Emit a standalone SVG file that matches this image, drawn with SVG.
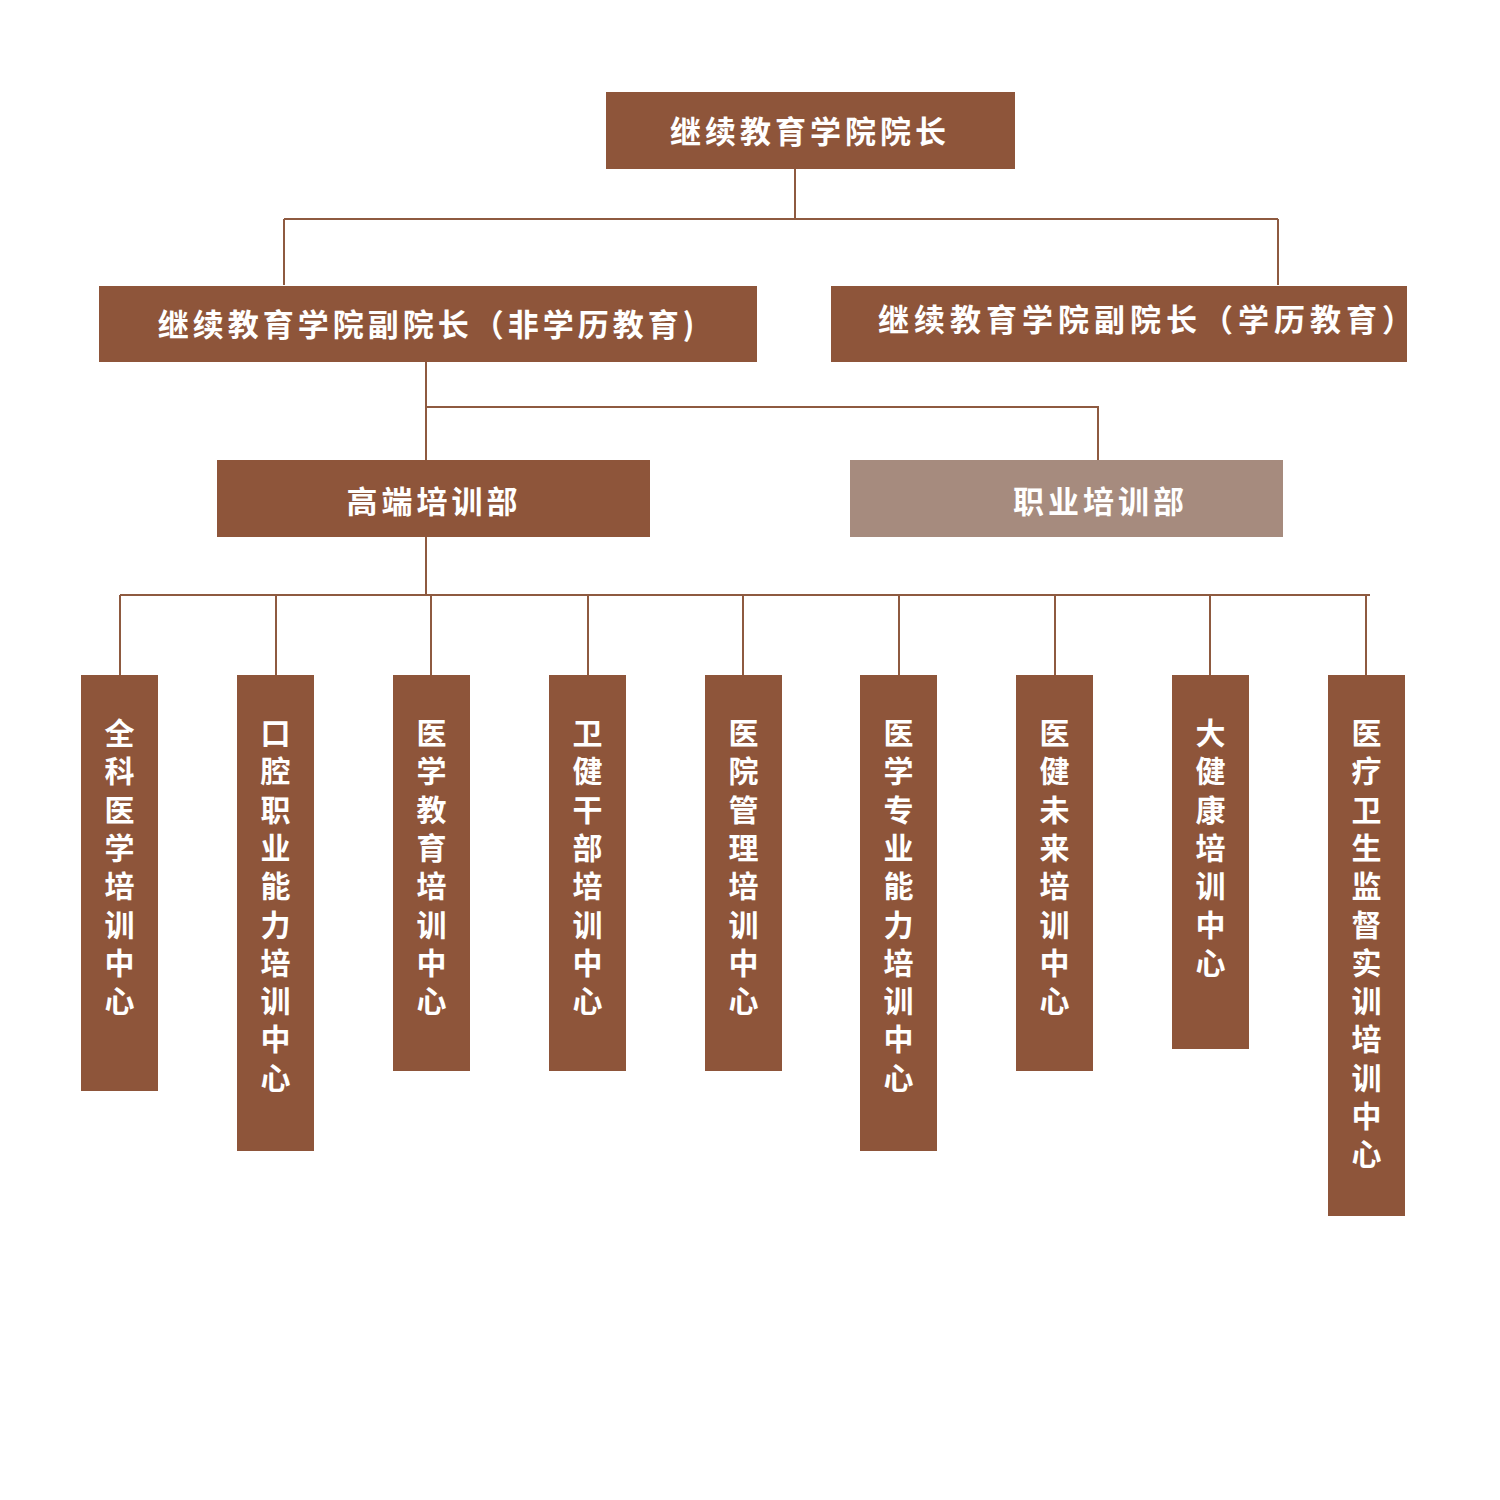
<svg xmlns="http://www.w3.org/2000/svg" width="1500" height="1500" viewBox="0 0 1500 1500">
<style>
.box{fill:#8e553a}
.gbox{fill:#a68b7e}
.t{font-family:"Noto Sans CJK SC","Noto Sans",sans-serif;font-size:31px;font-weight:bold;fill:#ffffff;letter-spacing:4px}
.v{font-family:"Noto Sans CJK SC","Noto Sans",sans-serif;font-size:30px;font-weight:bold;fill:#ffffff;text-anchor:middle}
.ln{stroke:#8e5a40;stroke-width:2;fill:none}
</style>
<rect width="1500" height="1500" fill="#ffffff"/>
<g id="connectors">
<path class="ln" d="M795 169V219M284 219H1278M284 219V285M1278 219V285"/>
<path class="ln" d="M426 362V460M426 407H1098V460"/>
<path class="ln" d="M426 537V595M120 595H1370"/>
<path class="ln" d="M120 595V675M276 595V675M431 595V675M588 595V675M743 595V675M899 595V675M1055 595V675M1210 595V675M1366 595V675"/>
</g>
<g id="dean"><rect class="box" x="606" y="92" width="409" height="77"/><text class="t" x="810" y="143" text-anchor="middle">继续教育学院院长</text></g>
<g id="vp-nondegree"><rect class="box" x="99" y="286" width="658" height="76"/><text class="t" x="428" y="336" text-anchor="middle">继续教育学院副院长（非学历教育)</text></g>
<g id="vp-degree"><rect class="box" x="831" y="286" width="576" height="76"/><text class="t" x="878" y="331" style="letter-spacing:5px">继续教育学院副院长（学历教育）</text></g>
<g id="high-end"><rect class="box" x="217" y="460" width="433" height="77"/><text class="t" x="434" y="513" text-anchor="middle">高端培训部</text></g>
<g id="vocational"><rect class="gbox" x="850" y="460" width="433" height="77"/><text class="t" x="1013" y="513">职业培训部</text></g>
<g id="c1"><rect class="box" x="81" y="675" width="77" height="416"/><text class="v"><tspan x="119.5" y="744">全</tspan><tspan x="119.5" dy="38.3">科</tspan><tspan x="119.5" dy="38.3">医</tspan><tspan x="119.5" dy="38.3">学</tspan><tspan x="119.5" dy="38.3">培</tspan><tspan x="119.5" dy="38.3">训</tspan><tspan x="119.5" dy="38.3">中</tspan><tspan x="119.5" dy="38.3">心</tspan></text></g>
<g id="c2"><rect class="box" x="237" y="675" width="77" height="476"/><text class="v"><tspan x="275.5" y="744">口</tspan><tspan x="275.5" dy="38.3">腔</tspan><tspan x="275.5" dy="38.3">职</tspan><tspan x="275.5" dy="38.3">业</tspan><tspan x="275.5" dy="38.3">能</tspan><tspan x="275.5" dy="38.3">力</tspan><tspan x="275.5" dy="38.3">培</tspan><tspan x="275.5" dy="38.3">训</tspan><tspan x="275.5" dy="38.3">中</tspan><tspan x="275.5" dy="38.3">心</tspan></text></g>
<g id="c3"><rect class="box" x="393" y="675" width="77" height="396"/><text class="v"><tspan x="431.5" y="744">医</tspan><tspan x="431.5" dy="38.3">学</tspan><tspan x="431.5" dy="38.3">教</tspan><tspan x="431.5" dy="38.3">育</tspan><tspan x="431.5" dy="38.3">培</tspan><tspan x="431.5" dy="38.3">训</tspan><tspan x="431.5" dy="38.3">中</tspan><tspan x="431.5" dy="38.3">心</tspan></text></g>
<g id="c4"><rect class="box" x="549" y="675" width="77" height="396"/><text class="v"><tspan x="587.5" y="744">卫</tspan><tspan x="587.5" dy="38.3">健</tspan><tspan x="587.5" dy="38.3">干</tspan><tspan x="587.5" dy="38.3">部</tspan><tspan x="587.5" dy="38.3">培</tspan><tspan x="587.5" dy="38.3">训</tspan><tspan x="587.5" dy="38.3">中</tspan><tspan x="587.5" dy="38.3">心</tspan></text></g>
<g id="c5"><rect class="box" x="705" y="675" width="77" height="396"/><text class="v"><tspan x="743.5" y="744">医</tspan><tspan x="743.5" dy="38.3">院</tspan><tspan x="743.5" dy="38.3">管</tspan><tspan x="743.5" dy="38.3">理</tspan><tspan x="743.5" dy="38.3">培</tspan><tspan x="743.5" dy="38.3">训</tspan><tspan x="743.5" dy="38.3">中</tspan><tspan x="743.5" dy="38.3">心</tspan></text></g>
<g id="c6"><rect class="box" x="860" y="675" width="77" height="476"/><text class="v"><tspan x="898.5" y="744">医</tspan><tspan x="898.5" dy="38.3">学</tspan><tspan x="898.5" dy="38.3">专</tspan><tspan x="898.5" dy="38.3">业</tspan><tspan x="898.5" dy="38.3">能</tspan><tspan x="898.5" dy="38.3">力</tspan><tspan x="898.5" dy="38.3">培</tspan><tspan x="898.5" dy="38.3">训</tspan><tspan x="898.5" dy="38.3">中</tspan><tspan x="898.5" dy="38.3">心</tspan></text></g>
<g id="c7"><rect class="box" x="1016" y="675" width="77" height="396"/><text class="v"><tspan x="1054.5" y="744">医</tspan><tspan x="1054.5" dy="38.3">健</tspan><tspan x="1054.5" dy="38.3">未</tspan><tspan x="1054.5" dy="38.3">来</tspan><tspan x="1054.5" dy="38.3">培</tspan><tspan x="1054.5" dy="38.3">训</tspan><tspan x="1054.5" dy="38.3">中</tspan><tspan x="1054.5" dy="38.3">心</tspan></text></g>
<g id="c8"><rect class="box" x="1172" y="675" width="77" height="374"/><text class="v"><tspan x="1210.5" y="744">大</tspan><tspan x="1210.5" dy="38.3">健</tspan><tspan x="1210.5" dy="38.3">康</tspan><tspan x="1210.5" dy="38.3">培</tspan><tspan x="1210.5" dy="38.3">训</tspan><tspan x="1210.5" dy="38.3">中</tspan><tspan x="1210.5" dy="38.3">心</tspan></text></g>
<g id="c9"><rect class="box" x="1328" y="675" width="77" height="541"/><text class="v"><tspan x="1366.5" y="744">医</tspan><tspan x="1366.5" dy="38.3">疗</tspan><tspan x="1366.5" dy="38.3">卫</tspan><tspan x="1366.5" dy="38.3">生</tspan><tspan x="1366.5" dy="38.3">监</tspan><tspan x="1366.5" dy="38.3">督</tspan><tspan x="1366.5" dy="38.3">实</tspan><tspan x="1366.5" dy="38.3">训</tspan><tspan x="1366.5" dy="38.3">培</tspan><tspan x="1366.5" dy="38.3">训</tspan><tspan x="1366.5" dy="38.3">中</tspan><tspan x="1366.5" dy="38.3">心</tspan></text></g>
</svg>
